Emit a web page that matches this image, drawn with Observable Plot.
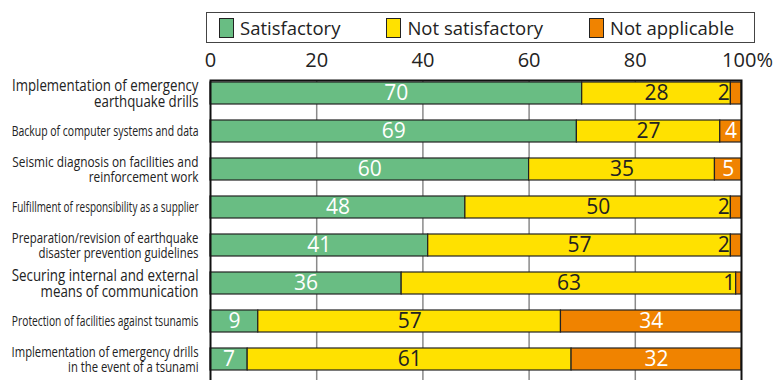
<!DOCTYPE html>
<html>
<head>
<meta charset="utf-8">
<script src="https://cdn.jsdelivr.net/npm/d3@7"></script>
<script src="https://cdn.jsdelivr.net/npm/@observablehq/plot@0.6"></script>
<style>
  body { margin: 0; background: #fff; font-family: "Open Sans", sans-serif; color: #222; }
  #legend-wrap { height: 46px; position: relative; }
  #legend {
    position: absolute; left: 206px; top: 12px; width: 535px; height: 29px;
    border: 1px solid #444; display: flex; align-items: center; gap: 46px;
    padding-left: 12px; box-sizing: content-box; font-size: 18.5px; white-space: nowrap;
  }
  #legend .item { display: flex; align-items: center; }
  #legend .sw { width: 15px; height: 20px; border: 1.5px solid #222; box-sizing: border-box; margin-right: 6px; }
</style>
</head>
<body>
<div id="legend-wrap"><div id="legend"></div></div>
<div id="chart"></div>
<script>
// Survey items (line breaks are part of the label text)
const categories = [
  "Implementation of emergency\nearthquake drills",
  "Backup of computer systems and data",
  "Seismic diagnosis on facilities and\nreinforcement work",
  "Fulfillment of responsibility as a supplier",
  "Preparation/revision of earthquake\ndisaster prevention guidelines",
  "Securing internal and external\nmeans of communication",
  "Protection of facilities against tsunamis",
  "Implementation of emergency drills\nin the event of a tsunami"
];

// Shares of respondents (%)
const satisfactory    = [70, 69, 60, 48, 41, 36,  9,  7];
const notSatisfactory = [28, 27, 35, 50, 57, 63, 57, 61];
const notApplicable   = [ 2,  4,  5,  2,  2,  1, 34, 32];

const statuses = ["Satisfactory", "Not satisfactory", "Not applicable"];
const colors   = ["#69bd83", "#ffe100", "#f08300"];

const xTicks = [0, 20, 40, 60, 80];
const xEndTick = [100];

// Long table for the stacked bars
const series = [satisfactory, notSatisfactory, notApplicable];
const rows = categories.flatMap((category, i) =>
  statuses.map((status, j) => ({category, status, value: series[j][i]}))
);

// Legend
const legend = document.getElementById("legend");
statuses.forEach((s, i) => {
  const item = document.createElement("div");
  item.className = "item";
  const sw = document.createElement("span");
  sw.className = "sw";
  sw.style.background = colors[i];
  const label = document.createElement("span");
  label.textContent = s;
  item.append(sw, label);
  legend.append(item);
});

const stackOpts = {x: "value", y: "category", z: "status", order: statuses};
const axisOpts = {anchor: "top", tickSize: 0, tickPadding: 14, fontSize: 20, fill: "#222", label: null};

const chart = Plot.plot({
  width: 774,
  height: 354,
  marginTop: 34,
  marginLeft: 210,
  marginRight: 33,
  marginBottom: 10,
  style: {fontFamily: "Open Sans, sans-serif", fontSize: "20px", color: "#222", background: "#fff"},
  x: {domain: [0, 100], axis: null, label: null},
  y: {domain: categories, paddingInner: 0.415, paddingOuter: 0.24, align: 0.11, axis: null},
  color: {domain: statuses, range: colors},
  marks: [
    Plot.ruleX(xTicks.slice(1), {stroke: "#8a8a8a", strokeWidth: 1.5}),
    Plot.barX(rows, Plot.stackX({...stackOpts, fill: "status", stroke: "#222", strokeWidth: 1.2})),
    // value labels
    Plot.text(rows, Plot.stackX({...stackOpts,
      text: d => d.status !== "Not satisfactory" && d.value >= 3 ? String(d.value) : null,
      fill: "white", fontSize: 21})),
    Plot.text(rows, Plot.stackX({...stackOpts,
      text: d => d.status === "Not satisfactory" ? String(d.value) : null,
      fill: "#222", fontSize: 21})),
    Plot.text(rows, Plot.stackX1({...stackOpts,
      text: d => d.status === "Not applicable" && d.value < 3 ? String(d.value) : null,
      fill: "#222", fontSize: 21, textAnchor: "end", dx: -1})),
    Plot.frame({stroke: "#111", strokeWidth: 2}),
    // top axis
    Plot.axisX(xTicks, axisOpts),
    Plot.axisX(xEndTick, {...axisOpts, tickFormat: d => d + "%", dx: 6}),
    // category labels
    Plot.text(categories, {y: d => d, text: d => d, frameAnchor: "left", textAnchor: "end",
      dx: -12, fontSize: 15.5, lineHeight: 1.03, fill: "#222"})
  ]
});

document.getElementById("chart").append(chart);

// Fit each category label into the left margin, condensing long ones
const maxWidth = 187;
const groups = chart.querySelectorAll(":scope > g");
const labelGroup = groups[groups.length - 1];
labelGroup.querySelectorAll("text").forEach(el => {
  const w = el.getBBox().width;
  if (w <= maxWidth) return;
  const sx = maxWidth / w;
  const sy = Math.min(1, Math.pow(sx / 0.8, 0.3));
  const t = el.getAttribute("transform");
  if (t) {
    el.setAttribute("transform", `${t} scale(${sx},${sy})`);
  } else {
    const x = +el.getAttribute("x") || 0, y = +el.getAttribute("y") || 0;
    el.setAttribute("transform", `translate(${x},${y}) scale(${sx},${sy}) translate(${-x},${-y})`);
  }
});
</script>
</body>
</html>
